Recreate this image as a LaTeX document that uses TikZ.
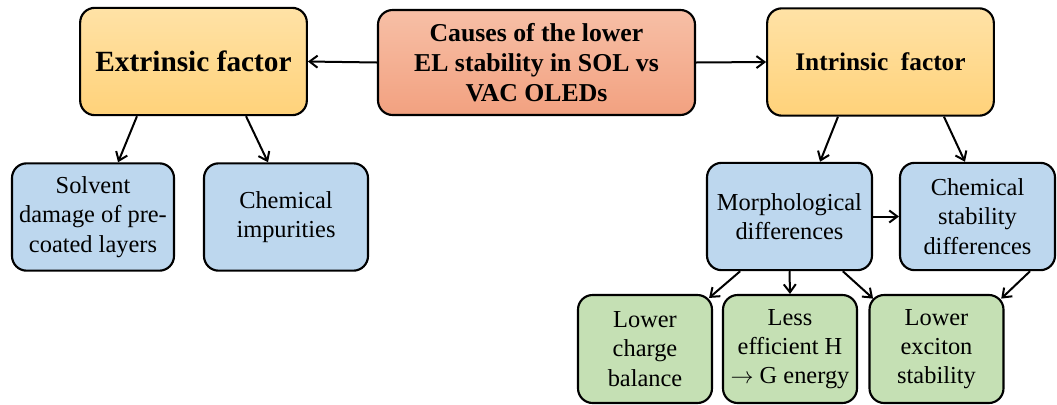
\documentclass[tikz,border=0pt]{standalone}
\usepackage{fontspec}
\setmainfont{Liberation Serif}
\usetikzlibrary{arrows.meta}

\definecolor{goldtop}{HTML}{FFE2A6}
\definecolor{goldbot}{HTML}{FFD27A}
\definecolor{salmontop}{HTML}{F7BFA6}
\definecolor{salmonbot}{HTML}{F2A180}
\definecolor{bluefill}{HTML}{BDD7EE}
\definecolor{greenfill}{HTML}{C5E0B4}

\tikzset{
	box/.style={draw, line width=1.6pt, rounded corners=11pt, align=center, inner sep=0pt,
		font=\fontsize{18.3}{22}\selectfont},
	factor/.style={box, top color=goldtop, bottom color=goldbot, minimum width=170pt, minimum height=80.5pt},
	bluebox/.style={box, fill=bluefill, minimum height=80.5pt},
	greenbox/.style={box, fill=greenfill, minimum width=100.5pt, minimum height=81pt},
	arr/.style={line width=1.5pt, -{Straight Barb[length=6pt,width=9pt]}}
}

\begin{document}
\begin{tikzpicture}[x=0.75pt, y=-0.75pt]
		\useasboundingbox (0,0) rectangle (1057,404);

		\node[box, top color=salmontop, bottom color=salmonbot, minimum width=237.75pt, minimum height=78.75pt,
			font=\fontsize{19.3}{22.5}\selectfont\bfseries] (causes) at (536.5, 62.5) {Causes of the lower\\EL stability in SOL vs\\VAC OLEDs};
		\node[factor, font=\fontsize{22}{24}\selectfont\bfseries] (extr) at (193.5, 61.5) {Extrinsic factor};
		\node[factor, font=\fontsize{19}{22}\selectfont\bfseries] (intr) at (880.5, 62) {Intrinsic\ \ factor};

		\node[bluebox, minimum width=121.5pt] (solvent) at (93, 217) {Solvent\\damage of pre-\\coated layers};
		\node[bluebox, minimum width=123pt] (impur) at (286, 217) {Chemical\\impurities};
		\node[bluebox, minimum width=123.75pt] (morph) at (789.5, 216.5) {Morphological\\differences};
		\node[bluebox, minimum width=116.25pt] (chemstab) at (977.5, 216.5) {Chemical\\stability\\differences};

		\node[greenbox] (charge) at (645, 349) {Lower\\charge\\balance};
		\node[greenbox] (transfer) at (790, 349) {Less\\efficient H\\$\rightarrow$ G energy};
		\node[greenbox] (exciton) at (936.5, 349) {Lower\\exciton\\stability};

		\path (causes.west) edge[arr] (extr.east)
		(causes.east) edge[arr] (intr.west)
		([xshift=-42.4pt]extr.south) edge[arr] ([xshift=18.8pt]solvent.north)
		([xshift=39.4pt]extr.south) edge[arr] ([xshift=-13.5pt]impur.north)
		([xshift=-31.9pt]intr.south) edge[arr] ([xshift=22.9pt]morph.north)
		([xshift=47.6pt]intr.south) edge[arr] ([xshift=-9.4pt]chemstab.north)
		(morph.east) edge[arr] (chemstab.west)
		([xshift=-37pt]morph.south) edge[arr] ([shift={(-3pt,-3pt)}]charge.north east)
		(morph.south) edge[arr] (transfer.north)
		([xshift=40pt]morph.south) edge[arr] ([shift={(3.5pt,-3.5pt)}]exciton.north west)
		([xshift=39.4pt]chemstab.south) edge[arr] ([shift={(-2.5pt,-3.5pt)}]exciton.north east);
	\end{tikzpicture}
\end{document}
